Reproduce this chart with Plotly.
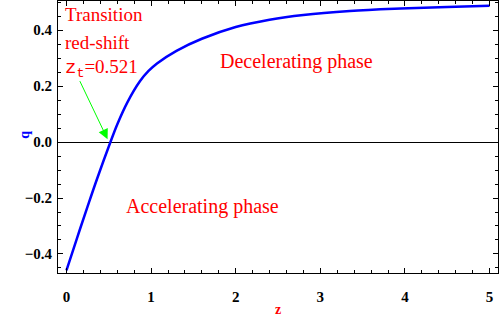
import plotly.graph_objects as go

# Data
z_vals = [0.0, 0.125, 0.25, 0.36, 0.52, 0.6, 0.72, 0.87, 0.97, 1.07, 1.3, 1.6, 2.0, 2.4, 2.8, 3.35, 3.95, 4.5, 5.0]
q_vals = [-0.459, -0.343, -0.23, -0.133, 0.0, 0.063, 0.142, 0.218, 0.254, 0.281, 0.326, 0.369, 0.411, 0.437, 0.454, 0.468, 0.477, 0.483, 0.487]

x_ticks = [0, 1, 2, 3, 4, 5]
x_tick_labels = ["0", "1", "2", "3", "4", "5"]
y_ticks = [-0.4, -0.2, 0.0, 0.2, 0.4]
y_tick_labels = ["\u22120.4", "\u22120.2", "0.0", "0.2", "0.4"]

z_t = 0.521

serif = "Liberation Serif, Times New Roman, serif"

fig = go.Figure()
fig.add_trace(go.Scatter(x=z_vals, y=q_vals, mode="lines",
                         line=dict(color="#0000ff", width=2.5, shape="spline", smoothing=1.0),
                         showlegend=False, hoverinfo="skip"))

axis_common = dict(
    showgrid=False, showline=True, linecolor="black", linewidth=1, mirror="ticks",
    ticks="inside", ticklen=5, tickcolor="black", tickwidth=1, automargin=False,
    tickfont=dict(family=serif, size=15, color="black", weight="bold"),
)

fig.update_xaxes(range=[-0.1, 5.1], tickvals=x_ticks, ticktext=x_tick_labels,
                 minor=dict(dtick=0.2, ticks="inside", ticklen=3, tickcolor="black"),
                 zeroline=False, ticklabelstandoff=10,
                 title=dict(text="z", font=dict(family=serif, size=14, color="#ff0000", weight="bold"), standoff=1),
                 **axis_common)
fig.update_yaxes(range=[-0.468, 0.504], tickvals=y_ticks, ticktext=y_tick_labels,
                 minor=dict(dtick=0.05, ticks="inside", ticklen=3, tickcolor="black"),
                 zeroline=True, zerolinecolor="black", zerolinewidth=1, ticklabelstandoff=2,
                 **axis_common)

# y-axis title placed as a rotated annotation
fig.add_annotation(xref="paper", yref="paper", x=-0.098, y=0.51, text="q", textangle=-90,
                   showarrow=False, font=dict(family=serif, size=14, color="#0000ff", weight="bold"))

red_font = dict(family=serif, size=19, color="#ff0000")
big_red = dict(family=serif, size=20, color="#ff0000")
fig.add_annotation(x=-0.045, y=0.454, text="Transition", showarrow=False, xanchor="left", font=red_font)
fig.add_annotation(x=-0.045, y=0.357, text="red-shift", showarrow=False, xanchor="left", font=red_font)
fig.add_annotation(x=-0.045, y=0.262,
                   text="<span style='font-family:Liberation Mono, Courier New, monospace'>z<sub>t</sub></span>=" + f"{z_t:.3f}",
                   showarrow=False, xanchor="left", font=red_font)
fig.add_annotation(x=2.72, y=0.289, text="Decelerating phase", showarrow=False, font=big_red)
fig.add_annotation(x=1.61, y=-0.232, text="Accelerating phase", showarrow=False, font=big_red)

# green arrow pointing at the transition redshift
fig.add_annotation(x=z_t - 0.035, y=0.01, ax=0.15, ay=0.223, axref="x", ayref="y",
                   xref="x", yref="y", text="", showarrow=True,
                   arrowhead=2, arrowsize=2, arrowwidth=1, arrowcolor="#00ff00")

fig.update_layout(width=500, height=317, margin=dict(l=58, r=2, t=1, b=44),
                  paper_bgcolor="white", plot_bgcolor="white")

fig.write_html("out.html", config={"displayModeBar": False},
               post_script="document.body.style.margin='0';document.body.style.overflow='hidden';")
